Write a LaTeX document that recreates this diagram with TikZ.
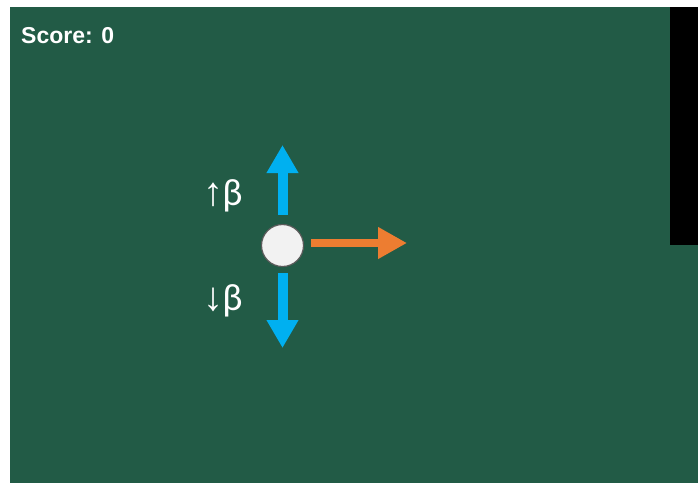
\documentclass[tikz,border=0pt]{standalone}
\usepackage{fontspec}
\setmainfont{Liberation Sans}
\newfontfamily\labelfont{Carlito}
\newfontfamily\arrowfont{Liberation Sans}
\usetikzlibrary{arrows.meta}
\definecolor{field}{RGB}{34,91,70}
\definecolor{upblue}{RGB}{0,176,240}
\definecolor{pushorange}{RGB}{237,125,49}
\definecolor{ballfill}{RGB}{242,242,242}
\definecolor{ballrim}{RGB}{90,90,90}
\newcommand{\uparr}{{\arrowfont\fontsize{40}{40}\selectfont ↑}}
\newcommand{\downarr}{{\arrowfont\fontsize{40}{40}\selectfont ↓}}
\tikzset{
  ball/.style={circle, fill=ballfill, draw=ballrim, line width=1.2pt, minimum size=42pt, inner sep=0pt},
  force/.style={line width=10pt, -{Triangle[length=28pt,width=30pt]}},
  push/.style={line width=8.5pt, pushorange, -{Triangle[length=29pt,width=30pt]}},
  betalabel/.style={text=white, font=\labelfont\fontsize{38}{38}\selectfont, inner sep=0pt, anchor=base},
  scoretext/.style={text=white, font=\bfseries\fontsize{23}{23}\selectfont, inner sep=0pt, anchor=base west}
}
\begin{document}
\begin{tikzpicture}[x=1pt,y=-1pt]
  \useasboundingbox (0,0) rectangle (698,483);
  % playing field and paddle
  \fill[field] (10,7) rectangle (698,483);
  \fill[black] (670,7) rectangle (698,245);
  % score
  \node[scoretext] (score) at (21,43) {Score: 0};
  % ball
  \node[ball] (ball) at (282.5,245.5) {};
  % force arrows
  \coordinate (upstart) at (282.5,215);
  \coordinate (uptip) at (282.5,145);
  \coordinate (downstart) at (282.5,273);
  \coordinate (downtip) at (282.5,348);
  \coordinate (rightstart) at (311,243);
  \coordinate (righttip) at (407,243);
  \draw[force, upblue] (upstart) -- (uptip);
  \draw[force, upblue] (downstart) -- (downtip);
  \draw[push] (rightstart) -- (righttip);
  % labels
  \node[betalabel] (uplabel) at (223,205) {\uparr\kern-1pt β};
  \node[betalabel] (downlabel) at (223,310) {\downarr\kern-1pt β};
\end{tikzpicture}
\end{document}
